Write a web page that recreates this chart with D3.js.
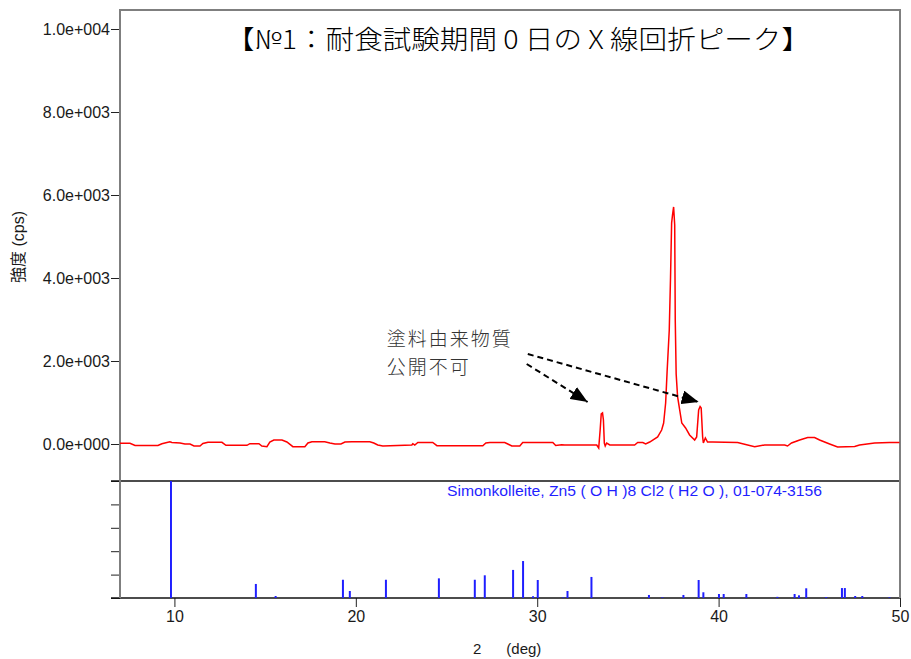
<!DOCTYPE html>
<html>
<head>
<meta charset="utf-8">
<script src="https://cdn.jsdelivr.net/npm/d3@7"></script>
<style>
  body { margin: 0; background: #fff; }
  svg { display: block; }
  .axis text { font-family: "Liberation Sans", Arial, sans-serif; font-size: 16px; fill: #1a1a1a; }
  .axis line { stroke: #222; }
</style>
</head>
<body>
<script>
// measured pattern (2theta, cps)
var twoTheta = [7.00, 7.55, 7.83, 9.09, 9.31, 9.75, 9.86, 10.31, 10.58, 10.86, 11.08, 11.41, 11.57, 11.85, 12.62, 12.84,
  14.00, 14.16, 14.66, 14.82, 15.10, 15.26, 15.48, 15.93, 16.20, 16.53, 17.19, 17.36, 17.58, 18.29, 18.57, 18.85,
  19.18, 19.40, 19.78, 20.77, 20.99, 21.21, 21.49, 23.09, 23.14, 23.25, 23.42, 24.24, 24.47, 27.00, 27.17, 27.39,
  28.21, 28.38, 28.60, 29.04, 29.20, 30.86, 31.02, 31.35, 31.52, 33.28, 33.39, 33.47, 33.53, 33.60, 33.65, 33.70,
  33.75, 33.83, 34.00, 35.37, 35.54, 35.82, 35.98, 36.20, 36.37, 36.64, 36.86, 36.97, 37.08, 37.16, 37.28, 37.35,
  37.41, 37.46, 37.52, 37.58, 37.61, 37.66, 37.74, 37.97, 38.18, 38.40, 38.68, 38.79, 38.90, 38.98, 39.04, 39.12,
  39.16, 39.27, 39.39, 39.67, 41.05, 41.60, 41.99, 42.54, 43.64, 43.80, 44.02, 44.47, 44.91, 45.29, 45.57, 46.12,
  46.56, 47.50, 47.77, 48.60, 49.42, 49.97];
var intensity = [17, 17, -36, -36, 7, 55, 36, 24, 0, 0, -48, -48, 12, 41, 41, -31,
  -31, 7, 7, -48, -65, 48, 96, 96, 48, -65, -65, 24, 55, 55, 24, 0,
  0, 48, 55, 55, 24, -24, -48, -24, 7, -24, 36, 36, -41, -41, 24, 36,
  36, 0, -48, -48, 36, 36, -36, -17, -24, -24, -96, 337, 723, 747, 578, 24,
  -48, 24, -24, -24, 36, 36, 0, 48, 96, 169, 337, 506, 988, 1735, 2747, 4025,
  5326, 5519, 5712, 5278, 2988, 1687, 1133, 506, 386, 217, 96, 169, 819, 904, 868, 169,
  24, 145, 48, 48, 36, -24, -65, -24, -24, -48, 24, 96, 157, 157, 96, 0,
  -72, -60, -24, 24, 36, 36];

// reference card sticks
var stickPos = [9.81, 14.49, 15.58, 19.29, 19.67, 21.66, 24.58, 26.56, 27.11, 28.67, 29.22, 29.77, 30.03,
  31.43, 31.67, 32.99, 36.16, 36.90, 38.06, 38.90, 39.16, 40.02, 40.28, 41.53, 43.24, 44.19, 44.43, 44.83,
  45.93, 46.80, 46.96, 47.53, 47.92, 49.42];
var stickInt = [100, 12, 1.7, 15.6, 6, 15.6, 16.8, 15.6, 19.4, 24, 31.6, 1.5, 15.4,
  0.6, 6, 18, 2.6, 0.6, 2.6, 15.4, 4.9, 3.4, 3.4, 3.4, 1, 3.4, 2.3, 8.3,
  0.8, 8.5, 8.5, 1.7, 1.7, 0.6];

var yTicks = [0, 2000, 4000, 6000, 8000, 10000];
var yTickLabels = ["0.0e+000", "2.0e+003", "4.0e+003", "6.0e+003", "8.0e+003", "1.0e+004"];
var stickTicks = [0, 20, 40, 60, 80, 100];
var xTicks = [10, 20, 30, 40, 50];

var title = "【№1：耐食試験期間 0 日の X 線回折ピーク】";
var cardLabel = "Simonkolleite, Zn5 ( O H )8 Cl2 ( H2 O ), 01-074-3156";
var noteLines = ["塗料由来物質", "公開不可"];
var noteCps = [2570, 1900];
// arrows in data units: [from2θ, fromCps, to2θ, toCps]
var noteArrows = [[29.42, 1928, 32.78, 1012], [29.48, 2169, 38.90, 1012]];

var W = 911, H = 659;
var svg = d3.select("body").append("svg").attr("width", W).attr("height", H);

var x = d3.scaleLinear().domain([7, 50]).range([120, 900]);
var y = d3.scaleLinear().domain([0, 10000]).range([444, 29]);
var yb = d3.scaleLinear().domain([0, 100]).range([598, 481]);

var frame = "#7f7f7f";

// top panel y axis
svg.append("g")
    .attr("class", "axis")
    .attr("transform", "translate(" + x(7) + ",0)")
    .call(d3.axisLeft(y).tickValues(yTicks).tickSize(9).tickPadding(1)
        .tickFormat(function (d, i) { return yTickLabels[i]; }))
    .call(function (g) { g.select(".domain").remove(); });

// stick panel ticks
svg.append("g")
    .attr("class", "axis")
    .attr("transform", "translate(" + x(7) + ",0)")
    .call(d3.axisLeft(yb).tickValues(stickTicks).tickSize(9).tickFormat(""))
    .call(function (g) { g.select(".domain").remove(); });

// x axis
svg.append("g")
    .attr("class", "axis")
    .attr("transform", "translate(0," + yb(0) + ")")
    .call(d3.axisBottom(x).tickValues(xTicks).tickSize(9).tickPadding(4))
    .call(function (g) { g.select(".domain").remove(); g.selectAll("line").attr("stroke", "#444"); });

// panel lines
svg.append("line").attr("x1", x(7) - 9).attr("x2", x(50)).attr("y1", yb(100)).attr("y2", yb(100))
    .attr("stroke", "#111").attr("stroke-width", 1.3);
svg.append("line").attr("x1", x(7) - 9).attr("x2", x(50)).attr("y1", yb(0)).attr("y2", yb(0))
    .attr("stroke", "#111").attr("stroke-width", 1.3);

// gray frame
svg.append("path")
    .attr("d", "M" + x(7) + "," + yb(0) + "V10H" + x(50) + "V" + yb(0))
    .attr("fill", "none").attr("stroke", frame).attr("stroke-width", 2);

// pattern
var pts = twoTheta.map(function (t, i) { return [t, intensity[i]]; });
svg.append("path")
    .datum(pts)
    .attr("fill", "none")
    .attr("stroke", "#ff0000")
    .attr("stroke-width", 1.5)
    .attr("d", d3.line().x(function (d) { return x(d[0]); }).y(function (d) { return y(d[1]); }));

// sticks
svg.selectAll(".stick")
    .data(stickPos)
    .enter()
    .append("line")
    .attr("class", "stick")
    .attr("x1", function (d) { return x(d); })
    .attr("x2", function (d) { return x(d); })
    .attr("y1", yb(0))
    .attr("y2", function (d, i) { return yb(stickInt[i]); })
    .attr("stroke", "#1f1fff")
    .attr("stroke-width", 2);

svg.append("text")
    .attr("x", 447).attr("y", 496)
    .attr("font-family", "Liberation Sans, Arial, sans-serif")
    .attr("font-size", 15.5)
    .attr("textLength", 375)
    .attr("lengthAdjust", "spacingAndGlyphs")
    .attr("fill", "#1f1fff")
    .text(cardLabel);

// title
svg.append("text")
    .attr("x", 226).attr("y", 37)
    .attr("dominant-baseline", "central")
    .attr("font-family", "Noto Sans CJK JP, sans-serif")
    .attr("font-weight", 300)
    .attr("font-size", 26)
    .attr("textLength", 584)
    .attr("lengthAdjust", "spacingAndGlyphs")
    .attr("fill", "#000")
    .text(title);

// annotation
svg.selectAll(".note")
    .data(noteLines)
    .enter()
    .append("text")
    .attr("class", "note")
    .attr("x", x(21.71))
    .attr("y", function (d, i) { return y(noteCps[i]); })
    .attr("dominant-baseline", "central")
    .attr("font-family", "Noto Sans CJK JP, sans-serif")
    .attr("font-weight", 300)
    .attr("font-size", 19)
    .attr("letter-spacing", 2)
    .attr("fill", "#333")
    .text(function (d) { return d; });

svg.append("defs").append("marker")
    .attr("id", "head")
    .attr("viewBox", "0 -7 17 14")
    .attr("markerUnits", "userSpaceOnUse")
    .attr("markerWidth", 17)
    .attr("markerHeight", 14)
    .attr("refX", 17)
    .attr("refY", 0)
    .attr("orient", "auto")
    .append("path")
    .attr("d", "M0,-7L17,0L0,7Z")
    .attr("fill", "#000");

svg.selectAll(".arrow")
    .data(noteArrows)
    .enter()
    .append("line")
    .attr("class", "arrow")
    .attr("x1", function (d) { return x(d[0]); })
    .attr("y1", function (d) { return y(d[1]); })
    .attr("x2", function (d) { return x(d[2]); })
    .attr("y2", function (d) { return y(d[3]); })
    .attr("stroke", "#000")
    .attr("stroke-width", 2)
    .attr("stroke-dasharray", "6,4")
    .attr("marker-end", "url(#head)");

// axis titles
svg.append("text")
    .attr("transform", "translate(18,247) rotate(-90)")
    .attr("text-anchor", "middle")
    .attr("dominant-baseline", "central")
    .attr("font-family", "Liberation Sans, Arial, Noto Sans CJK JP, sans-serif")
    .attr("font-size", 16)
    .attr("fill", "#1a1a1a")
    .text("強度 (cps)");

svg.append("text")
    .attr("x", 473).attr("y", 648)
    .attr("dominant-baseline", "central")
    .attr("xml:space", "preserve")
    .attr("font-family", "Liberation Sans, Arial, sans-serif")
    .attr("font-size", 15)
    .attr("fill", "#1a1a1a")
    .text("2\u00a0\u00a0\u00a0\u00a0\u00a0\u00a0(deg)");
</script>
</body>
</html>
